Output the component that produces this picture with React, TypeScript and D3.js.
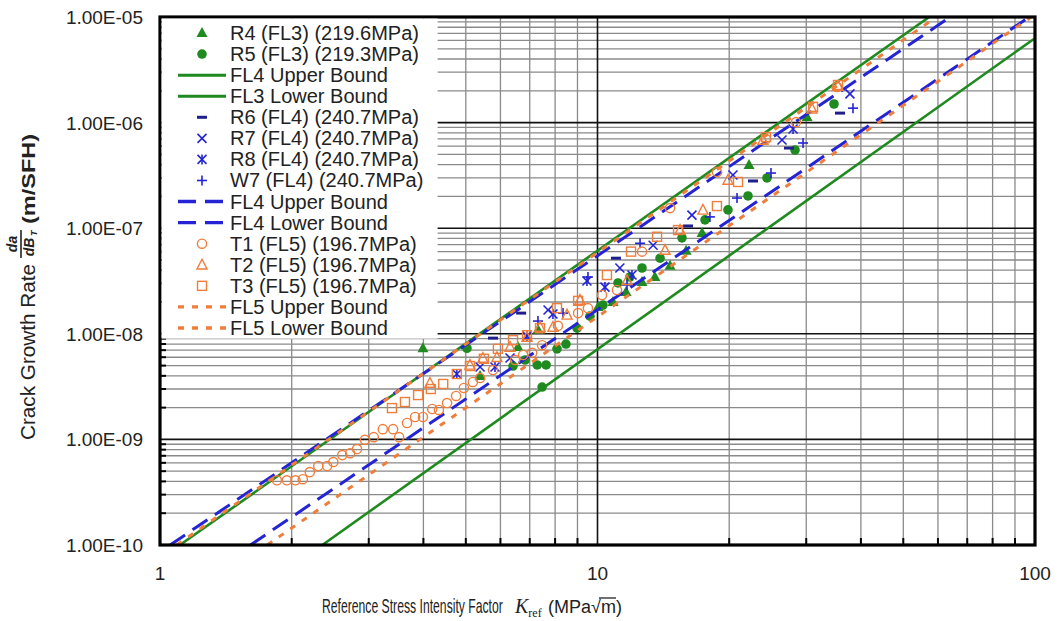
import React from 'react';
import * as d3 from 'd3';

// ---------- axis ticks ----------
const xTickValues = [1, 10, 100];
const xTickLabels = ['1', '10', '100'];
const yTickValues = [1e-10, 1e-9, 1e-8, 1e-7, 1e-6, 1e-5];
const yTickLabels = ['1.00E-10', '1.00E-09', '1.00E-08', '1.00E-07', '1.00E-06', '1.00E-05'];

// ---------- data series (K_ref, da/dB_T) ----------
const r4K = [3.99, 5.39, 6.58, 7.31, 10.03, 10.85, 11.62, 12.64, 13.53, 14.65, 15.94, 17.34, 22.2, 30.13];
const r4Rate = [7.3e-9, 3.98e-9, 7.5e-9, 1.09e-8, 1.79e-8, 2.0e-8, 2.49e-8, 3.1e-8, 3.45e-8, 4.4e-8, 6.1e-8, 9.0e-8, 3.97e-7, 1.13e-6];

const r5K = [5.03, 6.41, 6.83, 7.28, 7.63, 7.47, 8.08, 8.47, 8.98, 9.61, 10.29, 11.14, 11.86, 12.64, 13.9, 15.6, 17.61, 19.87, 22.08, 24.4, 28.28, 34.72];
const r5Rate = [7.3e-9, 4.95e-9, 5.65e-9, 5.07e-9, 5.07e-9, 3.13e-9, 7.2e-9, 8.0e-9, 1.13e-8, 1.47e-8, 1.87e-8, 3.03e-8, 3.45e-8, 4.2e-8, 5.2e-8, 8.1e-8, 1.2e-7, 1.49e-7, 2.02e-7, 2.99e-7, 5.5e-7, 1.5e-6];

const r6K = [5.77, 6.69, 11.02, 16.1, 22.67, 27.4, 35.83];
const r6Rate = [9.1e-9, 1.57e-8, 5.2e-8, 1.05e-7, 2.8e-7, 5.74e-7, 1.23e-6];

const r7K = [5.39, 6.31, 7.71, 11.25, 13.4, 16.44, 20.4, 26.41, 37.76];
const r7Rate = [4.85e-9, 5.9e-9, 1.68e-8, 4.2e-8, 6.9e-8, 1.33e-7, 3.19e-7, 6.84e-7, 1.87e-6];

const r8K = [4.77, 5.83, 6.9, 7.91, 9.46, 10.4, 11.99, 27.99];
const r8Rate = [4.16e-9, 4.85e-9, 9.5e-9, 1.54e-8, 3.16e-8, 2.77e-8, 3.6e-8, 8.7e-7];

const w7K = [7.31, 8.34, 9.51, 11.68, 12.51, 18.07, 20.84, 24.92, 29.5, 38.37];
const w7Rate = [1.32e-8, 1.57e-8, 3.45e-8, 2.9e-8, 7.2e-8, 1.28e-7, 1.93e-7, 3.33e-7, 6.41e-7, 1.37e-6];

const t1K = [1.85, 1.95, 2.04, 2.12, 2.2, 2.3, 2.41, 2.49, 2.61, 2.72, 2.82, 2.94, 3.08, 3.23, 3.41, 3.52, 3.67, 3.83, 3.99, 4.19, 4.34, 4.53, 4.75, 4.95, 5.19, 5.39, 5.77, 6.48, 6.76, 7.09, 7.47, 8.12, 9.03, 9.51, 10.24, 11.08, 12.64, 14.65, 18.75, 24.27, 28.43, 35.28];
const t1Rate = [4.1e-10, 4.1e-10, 4.1e-10, 4.2e-10, 4.9e-10, 5.6e-10, 5.6e-10, 6.1e-10, 7.1e-10, 7.4e-10, 8.1e-10, 9.9e-10, 1.05e-9, 1.25e-9, 1.25e-9, 1.05e-9, 1.43e-9, 1.63e-9, 1.63e-9, 1.94e-9, 1.9e-9, 2.21e-9, 2.58e-9, 3.07e-9, 3.5e-9, 3.81e-9, 4.54e-9, 5.65e-9, 6.3e-9, 6.6e-9, 7.8e-9, 1.19e-8, 1.57e-8, 1.75e-8, 2.33e-8, 2.6e-8, 6.0e-8, 1.55e-7, 3.4e-7, 7.0e-7, 1.01e-6, 2.17e-6];

const t2K = [4.14, 5.11, 5.47, 5.89, 6.31, 6.9, 7.39, 7.91, 8.52, 9.12, 11.68, 14.27, 15.44, 17.42, 19.87, 23.89, 30.93, 35.46];
const t2Rate = [3.42e-9, 5.07e-9, 5.9e-9, 6.0e-9, 7.5e-9, 9.3e-9, 1.16e-8, 1.16e-8, 1.51e-8, 2.09e-8, 3.2e-8, 6.2e-8, 9.6e-8, 1.49e-7, 2.86e-7, 6.84e-7, 1.35e-6, 2.22e-6];

const t3K = [3.39, 3.63, 3.89, 4.16, 4.44, 4.77, 5.11, 5.5, 5.92, 6.41, 6.9, 7.39, 8.08, 9.03, 10.51, 11.93, 13.68, 15.28, 18.75, 20.95, 24.27, 31.09, 35.46];
const t3Rate = [1.98e-9, 2.26e-9, 2.63e-9, 3.0e-9, 3.35e-9, 4.16e-9, 4.95e-9, 5.8e-9, 7.2e-9, 8.7e-9, 9.7e-9, 1.13e-8, 1.75e-8, 2.05e-8, 3.6e-8, 6.0e-8, 8.3e-8, 9.6e-8, 1.62e-7, 2.74e-7, 7.3e-7, 1.41e-6, 2.27e-6];

// ---------- bound lines (end points) ----------
const boundNames = ['FL4 Upper Bound', 'FL3 Lower Bound', 'FL4 Upper Bound', 'FL4 Lower Bound', 'FL5 Upper Bound', 'FL5 Lower Bound'];
const boundK0 = [1.11, 2.35, 1.055, 1.61, 1.092, 1.758];
const boundRate0 = [1e-10, 1e-10, 1e-10, 1e-10, 1e-10, 1e-10];
const boundK1 = [57.3, 100, 64, 97, 59.5, 98];
const boundRate1 = [1e-5, 6.3e-6, 1e-5, 1e-5, 1e-5, 1e-5];

// ---------- styling ----------
const GREEN = '#1f8a1f';
const BLUE = '#2424d4';
const NAVY = '#1e1e8c';
const ORANGE = '#ef7d3b';
const FONT = 'Liberation Sans, Arial, sans-serif';
const SERIF = 'Liberation Serif, Times New Roman, serif';
const TEXT = '#222';

const PL = 160, PR = 1035, PT = 17, PB = 545;

const x = d3.scaleLog().domain([1, 100]).range([PL, PR]);
const y = d3.scaleLog().domain([1e-10, 1e-5]).range([PB, PT]);

type Kind = 'triFill' | 'circFill' | 'dash' | 'x' | 'star' | 'plus' | 'circOpen' | 'triOpen' | 'sqOpen';

function Marker({ kind, cx, cy }: { kind: Kind; cx: number; cy: number }) {
  switch (kind) {
    case 'triFill':
      return <polygon points={`${cx},${cy - 6} ${cx - 5.5},${cy + 4} ${cx + 5.5},${cy + 4}`} fill={GREEN} />;
    case 'circFill':
      return <circle cx={cx} cy={cy} r={4.8} fill={GREEN} />;
    case 'dash':
      return <line x1={cx - 5} x2={cx + 5} y1={cy} y2={cy} stroke={NAVY} strokeWidth={3} />;
    case 'x':
      return (
        <g stroke={BLUE} strokeWidth={1.6}>
          <line x1={cx - 4.5} y1={cy - 4.5} x2={cx + 4.5} y2={cy + 4.5} />
          <line x1={cx - 4.5} y1={cy + 4.5} x2={cx + 4.5} y2={cy - 4.5} />
        </g>
      );
    case 'star':
      return (
        <g stroke={BLUE} strokeWidth={1.6}>
          <line x1={cx - 4.5} y1={cy - 4.5} x2={cx + 4.5} y2={cy + 4.5} />
          <line x1={cx - 4.5} y1={cy + 4.5} x2={cx + 4.5} y2={cy - 4.5} />
          <line x1={cx} y1={cy - 5} x2={cx} y2={cy + 5} />
        </g>
      );
    case 'plus':
      return (
        <g stroke={BLUE} strokeWidth={1.6}>
          <line x1={cx - 5} y1={cy} x2={cx + 5} y2={cy} />
          <line x1={cx} y1={cy - 5} x2={cx} y2={cy + 5} />
        </g>
      );
    case 'circOpen':
      return <circle cx={cx} cy={cy} r={4.6} fill="none" stroke={ORANGE} strokeWidth={1.4} />;
    case 'triOpen':
      return <polygon points={`${cx},${cy - 5.5} ${cx - 5},${cy + 4.2} ${cx + 5},${cy + 4.2}`} fill="none" stroke={ORANGE} strokeWidth={1.4} />;
    case 'sqOpen':
      return <rect x={cx - 4.5} y={cy - 4.5} width={9} height={9} fill="none" stroke={ORANGE} strokeWidth={1.4} />;
  }
  return null;
}

const series: { name: string; kind: Kind; K: number[]; rate: number[] }[] = [
  { name: 'R4 (FL3) (219.6MPa)', kind: 'triFill', K: r4K, rate: r4Rate },
  { name: 'R5 (FL3) (219.3MPa)', kind: 'circFill', K: r5K, rate: r5Rate },
  { name: 'R6 (FL4) (240.7MPa)', kind: 'dash', K: r6K, rate: r6Rate },
  { name: 'R7 (FL4) (240.7MPa)', kind: 'x', K: r7K, rate: r7Rate },
  { name: 'R8 (FL4) (240.7MPa)', kind: 'star', K: r8K, rate: r8Rate },
  { name: 'W7 (FL4) (240.7MPa)', kind: 'plus', K: w7K, rate: w7Rate },
  { name: 'T1 (FL5) (196.7MPa)', kind: 'circOpen', K: t1K, rate: t1Rate },
  { name: 'T2 (FL5) (196.7MPa)', kind: 'triOpen', K: t2K, rate: t2Rate },
  { name: 'T3 (FL5) (196.7MPa)', kind: 'sqOpen', K: t3K, rate: t3Rate },
];

const boundStyles = [
  { color: GREEN, width: 2.6, dash: undefined as string | undefined },
  { color: GREEN, width: 2.6, dash: undefined as string | undefined },
  { color: BLUE, width: 3, dash: '18 9' },
  { color: BLUE, width: 3, dash: '18 9' },
  { color: ORANGE, width: 3, dash: '6 8' },
  { color: ORANGE, width: 3, dash: '6 8' },
];

const legendOrder: { type: 's' | 'b'; i: number }[] = [
  { type: 's', i: 0 }, { type: 's', i: 1 }, { type: 'b', i: 0 }, { type: 'b', i: 1 },
  { type: 's', i: 2 }, { type: 's', i: 3 }, { type: 's', i: 4 }, { type: 's', i: 5 },
  { type: 'b', i: 2 }, { type: 'b', i: 3 },
  { type: 's', i: 6 }, { type: 's', i: 7 }, { type: 's', i: 8 }, { type: 'b', i: 4 }, { type: 'b', i: 5 },
];

export default function App() {
  const line = d3.line<[number, number]>().x((d) => x(d[0])).y((d) => y(d[1]));

  const xMinor: number[] = [];
  for (let d = 0; d < 2; d++) for (let k = 2; k <= 9; k++) xMinor.push(k * Math.pow(10, d));
  const yMinor: number[] = [];
  for (let d = -10; d < -5; d++) for (let k = 2; k <= 9; k++) yMinor.push(k * Math.pow(10, d));

  const drawBound = (i: number) => {
    const st = boundStyles[i];
    const pts: [number, number][] = [[boundK0[i], boundRate0[i]], [boundK1[i], boundRate1[i]]];
    return (
      <path key={'b' + i} d={line(pts) || ''} fill="none" stroke={st.color} strokeWidth={st.width}
        strokeDasharray={st.dash} clipPath="url(#plotclip)" />
    );
  };

  const drawSeries = (si: number) => {
    const s = series[si];
    return (
      <g key={'s' + si}>
        {s.K.map((k, j) => (
          <Marker key={j} kind={s.kind} cx={x(k)} cy={y(s.rate[j])} />
        ))}
      </g>
    );
  };

  const LEG_Y0 = 33, LEG_DY = 21.07;

  return (
    <svg width={1059} height={621} style={{ position: 'absolute', left: 0, top: 0, background: '#fff' }}
      fontFamily={FONT}>
      <defs>
        <clipPath id="plotclip">
          <rect x={PL} y={PT} width={PR - PL} height={PB - PT} />
        </clipPath>
      </defs>
      <rect x={0} y={0} width={1059} height={621} fill="#fff" />

      {/* grid */}
      {xMinor.map((v) => (
        <line key={'gx' + v} x1={x(v)} x2={x(v)} y1={PT} y2={PB} stroke="#8a8a8a" strokeWidth={1.3} />
      ))}
      {yMinor.map((v, i) => (
        <line key={'gy' + i} x1={PL} x2={PR} y1={y(v)} y2={y(v)} stroke="#8a8a8a" strokeWidth={1.3} />
      ))}
      {xTickValues.slice(1, 2).map((v) => (
        <line key={'gmx' + v} x1={x(v)} x2={x(v)} y1={PT} y2={PB} stroke="#111" strokeWidth={1.6} />
      ))}
      {yTickValues.slice(1, -1).map((v, i) => (
        <line key={'gmy' + i} x1={PL} x2={PR} y1={y(v)} y2={y(v)} stroke="#111" strokeWidth={1.6} />
      ))}

      {/* series in legend order */}
      {drawSeries(0)}
      {drawSeries(1)}
      {drawBound(0)}
      {drawBound(1)}
      {drawSeries(2)}
      {drawSeries(3)}
      {drawSeries(4)}
      {drawSeries(5)}
      {drawBound(2)}
      {drawBound(3)}
      {drawSeries(6)}
      {drawSeries(7)}
      {drawSeries(8)}
      {drawBound(4)}
      {drawBound(5)}

      {/* ticks */}
      {xMinor.map((v) => (
        <line key={'tx' + v} x1={x(v)} x2={x(v)} y1={PB} y2={PB - 7} stroke="#000" strokeWidth={2} />
      ))}
      {yMinor.map((v, i) => (
        <line key={'ty' + i} x1={PL} x2={PL + 6} y1={y(v)} y2={y(v)} stroke="#000" strokeWidth={2} />
      ))}

      {/* frame */}
      <rect x={PL} y={PT} width={PR - PL} height={PB - PT} fill="none" stroke="#000" strokeWidth={3.2} />

      {/* legend */}
      <rect x={PL + 1.6} y={PT + 1.6} width={276} height={320} fill="#fff" />
      {legendOrder.map((e, idx) => {
        const cy = LEG_Y0 + idx * LEG_DY;
        if (e.type === 's') {
          const s = series[e.i];
          return (
            <g key={'l' + idx}>
              <Marker kind={s.kind} cx={202} cy={cy} />
              <text x={230} y={cy + 7} fontSize={20} fill={TEXT}>{s.name}</text>
            </g>
          );
        }
        const st = boundStyles[e.i];
        return (
          <g key={'l' + idx}>
            <line x1={178} x2={226} y1={cy} y2={cy} stroke={st.color} strokeWidth={st.width + 0.4}
              strokeDasharray={st.dash} />
            <text x={230} y={cy + 7} fontSize={20} fill={TEXT}>{boundNames[e.i]}</text>
          </g>
        );
      })}

      {/* y tick labels */}
      {yTickValues.map((v, i) => (
        <text key={'yl' + i} x={143} y={y(v) + 7} fontSize={19} textAnchor="end" fill={TEXT}>
          {yTickLabels[i]}
        </text>
      ))}
      {/* x tick labels */}
      {xTickValues.map((v, i) => (
        <text key={'xl' + i} x={x(v)} y={580} fontSize={19} textAnchor="middle" fill={TEXT}>
          {xTickLabels[i]}
        </text>
      ))}

      {/* y axis title */}
      <g transform="translate(35, 440) rotate(-90)" fill={TEXT}>
        <text x={0} y={0} fontSize={20} textLength={176} lengthAdjust="spacingAndGlyphs">Crack Growth Rate</text>
        <text x={196} y={-18} fontSize={14} fontWeight="bold" fontStyle="italic" textAnchor="middle">da</text>
        <line x1={182} x2={210} y1={-14} y2={-14} stroke={TEXT} strokeWidth={1.6} />
        <text x={193} y={-1} fontSize={14} fontWeight="bold" fontStyle="italic" textAnchor="middle">dB</text>
        <text x={204} y={2} fontSize={9} fontWeight="bold" fontStyle="italic">T</text>
        <text x={216} y={0} fontSize={18} fontWeight="bold" textLength={90} lengthAdjust="spacingAndGlyphs">(m/SFH)</text>
      </g>

      {/* x axis title */}
      <g fill={TEXT}>
        <g transform="translate(322, 613) scale(0.61, 1)">
          <text x={0} y={0} fontSize={20}>Reference Stress Intensity Factor</text>
        </g>
        <text x={515} y={613} fontFamily={SERIF}>
          <tspan fontSize={20} fontStyle="italic">K</tspan>
          <tspan fontSize={12} dy={4}>ref</tspan>
        </text>
        <text x={548} y={613} fontSize={18}>(MPa√m)</text>
        <line x1={599} x2={616} y1={598} y2={598} stroke={TEXT} strokeWidth={1.3} />
      </g>
    </svg>
  );
}
